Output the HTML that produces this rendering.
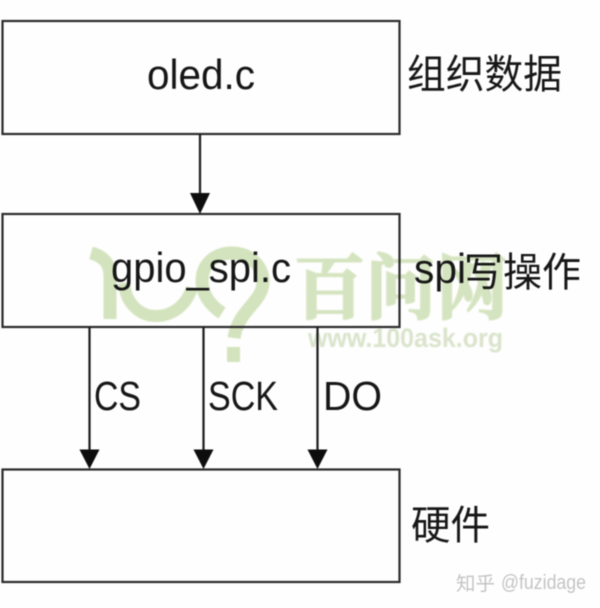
<!DOCTYPE html>
<html>
<head>
<meta charset="utf-8">
<style>
html,body{margin:0;padding:0;background:#fefefe;width:600px;height:608px;overflow:hidden}
svg{display:block}
text{font-family:"Liberation Sans","Noto Sans CJK SC",sans-serif;fill:#151515}
</style>
</head>
<body>
<svg width="600" height="608" viewBox="0 0 600 608" xmlns="http://www.w3.org/2000/svg">
<defs>
  <filter id="b1" x="-5%" y="-5%" width="110%" height="110%"><feGaussianBlur stdDeviation="0.9"/></filter>
  <filter id="b2" x="-5%" y="-5%" width="110%" height="110%"><feGaussianBlur stdDeviation="0.45"/></filter>
</defs>
<rect width="600" height="608" fill="#fefefe"/>

<!-- watermark -->
<g filter="url(#b1)">
<g fill="none" stroke="#d3e3bd" stroke-width="13">
  <path d="M91 253 C102 256 110 262 110 276 L110 319"/>
  <path d="M124 283 C126 304 140 316 156 316 C172 316 186 306 192 288" stroke-width="12"/>
  <path d="M222 313 C208 304 202 292 202 281 C202 263 216 253 232 253 C250 253 263 266 263 282 C263 302 238 310 234 338" stroke-width="13"/>
</g>
<rect x="227" y="347" width="13" height="15" fill="#d3e3bd"/>
<text x="294" y="313" font-size="71" font-weight="700" stroke="#d5e4c0" stroke-width="2" style="fill:#d5e4c0;font-family:'Noto Serif CJK SC','Noto Sans CJK SC',serif" textLength="214" lengthAdjust="spacingAndGlyphs">百问网</text>
<text x="308" y="347" font-size="27" font-weight="700" style="fill:#d9e4cb" textLength="195" lengthAdjust="spacingAndGlyphs">www.100ask.org</text>
</g>

<g filter="url(#b2)">
<!-- boxes -->
<g fill="none" stroke="#2a2a2a" stroke-width="2.2">
  <rect x="2.5" y="21" width="397" height="113"/>
  <rect x="2.5" y="214" width="397" height="113"/>
  <rect x="2.5" y="469.5" width="397" height="112.5"/>
</g>

<!-- connectors -->
<g stroke="#1f1f1f" stroke-width="2.2" fill="none">
  <line x1="200" y1="134" x2="200" y2="196"/>
  <line x1="89.5" y1="327" x2="89.5" y2="452"/>
  <line x1="203.5" y1="327" x2="203.5" y2="452"/>
  <line x1="317.5" y1="327" x2="317.5" y2="452"/>
</g>
<g fill="#0c0c0c">
  <polygon points="190,193 210,193 200,214"/>
  <polygon points="79.5,449.5 99.5,449.5 89.5,469"/>
  <polygon points="193.5,449.5 213.5,449.5 203.5,469"/>
  <polygon points="307.5,449.5 327.5,449.5 317.5,469"/>
</g>

<!-- labels -->
<text x="147" y="89" font-size="42" textLength="108" lengthAdjust="spacingAndGlyphs">oled.c</text>
<text x="111" y="282" font-size="42" textLength="180" lengthAdjust="spacingAndGlyphs">gpio_spi.c</text>
<text x="407" y="88" font-size="40" textLength="155" lengthAdjust="spacingAndGlyphs">组织数据</text>
<text x="414" y="283" font-size="42" textLength="52" lengthAdjust="spacingAndGlyphs">spi</text>
<text x="464" y="286" font-size="40" textLength="117" lengthAdjust="spacingAndGlyphs">写操作</text>
<text x="94" y="410" font-size="41" textLength="47" lengthAdjust="spacingAndGlyphs">CS</text>
<text x="208" y="410" font-size="41" textLength="70" lengthAdjust="spacingAndGlyphs">SCK</text>
<text x="323" y="410" font-size="41" textLength="59" lengthAdjust="spacingAndGlyphs">DO</text>
<text x="411" y="539" font-size="40" textLength="79" lengthAdjust="spacingAndGlyphs">硬件</text>

<!-- credit -->
<text x="456" y="590" font-size="19" style="fill:#c4c4c4" textLength="39" lengthAdjust="spacingAndGlyphs">知乎</text>
<text x="501" y="589" font-size="20" style="fill:#c4c4c4" textLength="85" lengthAdjust="spacingAndGlyphs">@fuzidage</text>
</g>
</svg>
</body>
</html>
